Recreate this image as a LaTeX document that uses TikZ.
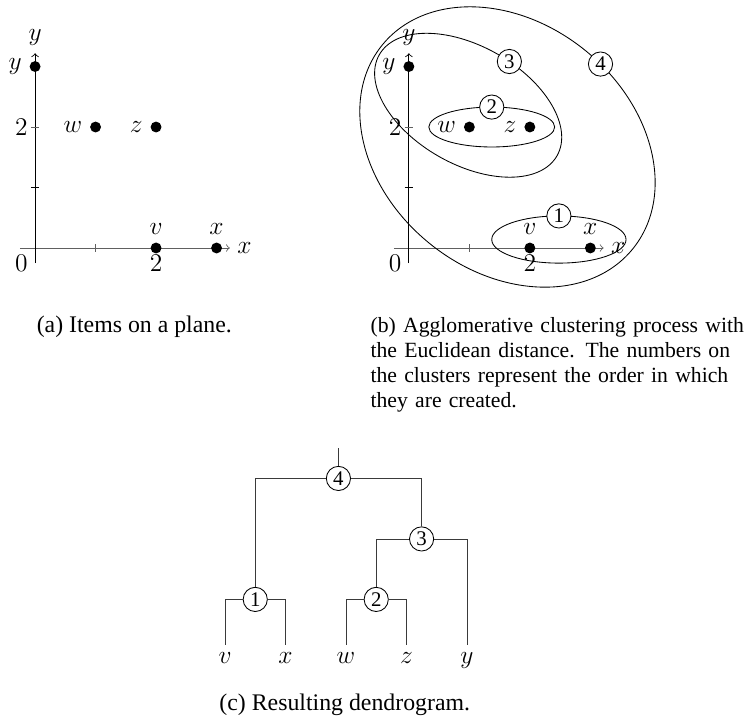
\documentclass[tikz,border=0pt]{standalone}
\usepackage{fontspec}
\setmainfont{Liberation Serif}
\usepackage{tikz}
\definecolor{axisgray}{HTML}{606060}
\definecolor{dendgray}{HTML}{3A3A3A}
\tikzset{
  dot/.style={circle,fill,inner sep=0pt,minimum size=0.18cm},
  num/.style={circle,draw,fill=white,inner sep=0pt,minimum size=0.4cm,font=\fontsize{9.8}{10}\selectfont},
  leaf/.style={anchor=north},
  caption/.style={inner sep=0pt,font=\fontsize{11.2}{11.8}\selectfont},
}

\begin{document}
\begin{tikzpicture}[>=to,font=\fontsize{12}{14.5}\selectfont]
\useasboundingbox (-0.58,-7.84) rectangle (11.77,4.10);
% the two planes
\foreach \s/\p in {0/a,6.18/b}{
\begin{scope}[xshift=\s cm]
\draw[axisgray,->] (-0.25,0)--(3.22,0) node[right,text=black] (xl\p) {$x$};
\draw[->] (0,-0.25)--(0,3.22) node[above] (yl\p) {$y$};
\foreach \t in {1,2} \draw[axisgray] (\t,-0.06)--(\t,0.06);
\draw (-0.07,1)--(0.07,1);
\draw[axisgray] (-0.07,2)--(0.07,2);
\node[below left] (o\p) at (0,0) {$0$};
\node[below] (tx\p) at (2,0) {$2$};
\node[left] (ty\p) at (0,2) {$2$};
\foreach \n/\xx/\yy/\d in {v/2/0/above,x/3/0/above,w/1/2/left,z/2/2/left,y/0/3/left}
  \node[dot,label=\d:$\n$] (\n\p) at (\xx,\yy) {};
\end{scope}}
% clusters
\begin{scope}[xshift=6.18cm]
\draw (2.48,0.14) ellipse [x radius=1.11,y radius=0.39];
\node[num] (c1) at (2.48,0.53) {1};
\draw (1.37,2.0) ellipse [x radius=1.04,y radius=0.33];
\node[num] (c2) at (1.37,2.33) {2};
\begin{scope}[shift={(0.98,2.36)},rotate=-29.6]
\draw (0,0) ellipse [x radius=1.69,y radius=0.975];
\node[num] (c3) at (82:1.69 and 0.975) {3};
\end{scope}
\begin{scope}[shift={(1.63,1.67)},rotate=-39.2]
\draw (0,0) ellipse [x radius=2.67,y radius=2.05];
\node[num] (c4) at (83:2.67 and 2.05) {4};
\end{scope}
\end{scope}
% captions
\node[caption,anchor=base] (capa) at (1.64,-1.40) {(a) Items on a plane.};
\node[caption,anchor=base west,text width=6.2cm,align=left,font=\fontsize{10.2}{11.8}\selectfont] (capb) at (5.54,-1.40)
  {\makebox[6.2cm][s]{(b) Agglomerative clustering process with}\\
   \makebox[6.2cm][s]{the Euclidean distance. The numbers on}\\
   \makebox[6.2cm][s]{the clusters represent the order in which}\\
   they are created.};
% dendrogram
\foreach \n/\x in {v/3.14,x/4.14,w/5.14,z/6.14,y/7.14}
  \node[leaf] (l\n) at (\x,-6.56) {$\n$};
\node[num] (d1) at (3.64,-5.81) {1};
\node[num] (d2) at (5.64,-5.81) {2};
\node[num] (d3) at (6.39,-4.81) {3};
\node[num] (d4) at (5.015,-3.81) {4};
\coordinate (root) at (5.015,-3.31);
\begin{scope}[dendgray]
\draw (lv.north) |- (d1) -| (lx.north);
\draw (lw.north) |- (d2) -| (lz.north);
\draw (d2) |- (d3) -| (ly.north);
\draw (d1) |- (d4) -| (d3);
\draw (d4) -- (root);
\end{scope}
\node[caption,anchor=base] (capc) at (5.12,-7.65) {(c) Resulting dendrogram.};
\end{tikzpicture}
\end{document}
